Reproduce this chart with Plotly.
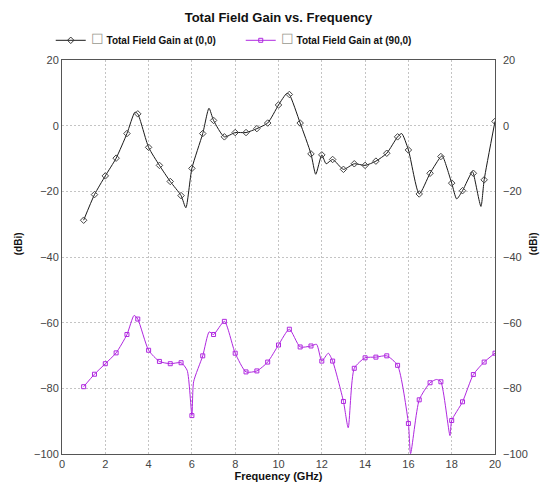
import plotly.graph_objects as go

# ---------------- data ----------------
freq_markers = [1.0, 1.5, 2.0, 2.5, 3.0, 3.5, 4.0, 4.5, 5.0, 5.5, 6.0, 6.5, 7.0, 7.5, 8.0, 8.5, 9.0, 9.5, 10.0,
                10.5, 11.0, 11.5, 12.0, 12.5, 13.0, 13.5, 14.0, 14.5, 15.0, 15.5, 16.0, 16.5, 17.0, 17.5, 18.0,
                18.5, 19.0, 19.5, 20.0]
gain_0_0 = [-28.8, -21.0, -15.3, -9.9, -2.4, 3.6, -6.6, -12.1, -17.0, -21.3, -13.0, -2.4, 1.6, -3.4, -2.1,
            -2.1, -0.9, 0.8, 6.3, 9.5, 0.8, -8.6, -8.9, -10.3, -13.3, -11.6, -12.1, -10.8, -8.4, -3.4, -7.4,
            -20.8, -14.5, -9.4, -17.5, -19.8, -14.5, -16.5, 1.3]
gain_90_0 = [-79.5, -75.7, -72.5, -69.2, -63.6, -58.9, -68.4, -71.8, -72.5, -72.2, -88.3, -70.1, -63.6, -59.6,
             -69.3, -75.0, -74.7, -72.0, -66.8, -62.0, -67.4, -67.1, -71.7, -71.7, -84.0, -73.9, -70.7, -70.5,
             -70.1, -73.0, -90.7, -83.5, -78.3, -78.0, -89.8, -84.1, -75.8, -72.0, -69.3]

# extra curve features (peaks / dips between marker samples)
extra_freq_0_0 = [3.37, 5.72, 6.79, 10.38, 11.72, 12.2, 15.69, 17.57, 18.23, 18.95, 19.35]
extra_gain_0_0 = [4.1, -25.0, 5.3, 9.8, -14.8, -11.6, -2.4, -9.2, -22.3, -14.0, -24.6]
extra_freq_90_0 = [3.33, 5.78, 6.08, 6.8, 11.76, 12.3, 13.22, 16.1, 17.3, 17.92]
extra_gain_90_0 = [-57.8, -74.5, -78.0, -62.8, -66.6, -69.3, -92.0, -99.9, -77.3, -94.4]

x_ticks = [0, 2, 4, 6, 8, 10, 12, 14, 16, 18, 20]
y_ticks = [20, 0, -20, -40, -60, -80, -100]

name_0 = "Total Field Gain at (0,0)"
name_90 = "Total Field Gain at (90,0)"
title = "Total Field Gain vs. Frequency"

BLACK = "#1a1a1a"
MAGENTA = "#b028e0"
FONT = "Liberation Sans, Arial, sans-serif"


def merged(fx, fy, ex, ey):
    pts = sorted(list(zip(fx, fy)) + list(zip(ex, ey)))
    return [p[0] for p in pts], [p[1] for p in pts]


lx0, ly0 = merged(freq_markers, gain_0_0, extra_freq_0_0, extra_gain_0_0)
lx90, ly90 = merged(freq_markers, gain_90_0, extra_freq_90_0, extra_gain_90_0)

fig = go.Figure()

# curves
fig.add_trace(go.Scatter(x=lx0, y=ly0, mode="lines", line=dict(color=BLACK, width=1, shape="spline", smoothing=0.6),
                         showlegend=False, hoverinfo="skip"))
fig.add_trace(go.Scatter(x=lx90, y=ly90, mode="lines",
                         line=dict(color=MAGENTA, width=1, shape="spline", smoothing=0.6),
                         showlegend=False, hoverinfo="skip"))
# markers
fig.add_trace(go.Scatter(x=freq_markers, y=gain_0_0, mode="markers",
                         marker=dict(symbol="diamond-open", size=5, color="#444444", line=dict(width=1)),
                         showlegend=False, name=name_0))
fig.add_trace(go.Scatter(x=freq_markers, y=gain_90_0, mode="markers",
                         marker=dict(symbol="square-open", size=4, color=MAGENTA, line=dict(width=1)),
                         showlegend=False, name=name_90))

box = "<span style='color:#9a9a90;font-weight:normal;font-size:14px'>☐</span> "
# legend-only entries
fig.add_trace(go.Scatter(x=[None], y=[None], mode="lines+markers", name=box + "<b>" + name_0 + "</b>",
                         line=dict(color=BLACK, width=1),
                         marker=dict(symbol="diamond-open", size=5, color="#333333")))
fig.add_trace(go.Scatter(x=[None], y=[None], mode="lines+markers", name=box + "<b>" + name_90 + "</b>",
                         line=dict(color=MAGENTA, width=1),
                         marker=dict(symbol="square-open", size=4, color=MAGENTA)))
# invisible trace for right axis
fig.add_trace(go.Scatter(x=[None], y=[None], yaxis="y2", showlegend=False, hoverinfo="skip"))

grid = dict(showgrid=True, gridcolor="#c4c4c4", griddash="2px,2px", gridwidth=1, zeroline=False,
            showline=True, linecolor="#555555", linewidth=1, ticks="",
            tickfont=dict(family=FONT, size=11, color="#444444"))

fig.update_layout(
    width=541, height=492,
    margin=dict(l=62, r=46, t=60, b=30),
    paper_bgcolor="white", plot_bgcolor="white",
    title=dict(text="<b>" + title + "</b>", x=0.5, xref="paper", xanchor="center", y=1 - 17 / 492,
               yanchor="middle", font=dict(family=FONT, size=13, color="#111111")),
    legend=dict(orientation="h", x=-0.026, xanchor="left", y=1.05, yanchor="middle",
                font=dict(family=FONT, size=10, color="#111111"), bgcolor="rgba(0,0,0,0)",
                entrywidth=145, entrywidthmode="pixels", itemwidth=30, tracegroupgap=0),
    xaxis=dict(range=[0, 20], tickvals=x_ticks, mirror=True, **grid,
               title=dict(text="<b>Frequency (GHz)</b>", standoff=2,
                          font=dict(family=FONT, size=11, color="#111111"))),
    yaxis=dict(range=[-100, 20], tickvals=y_ticks, mirror=True, **grid),
    yaxis2=dict(range=[-100, 20], tickvals=y_ticks, overlaying="y", side="right", showgrid=False,
                zeroline=False, showline=False, ticks="", ticklabelstandoff=7,
                tickfont=dict(family=FONT, size=11, color="#444444")),
    annotations=[
        dict(text="<b>(dBi)</b>", x=(18 - 62) / 433, xref="paper", xanchor="center", y=(462 - 248) / 402,
             yref="paper", yanchor="middle", textangle=-90, showarrow=False,
             font=dict(family=FONT, size=10, color="#111111")),
        dict(text="<b>(dBi)</b>", x=(533 - 62) / 433, xref="paper", xanchor="center", y=(462 - 248) / 402,
             yref="paper", yanchor="middle", textangle=-90, showarrow=False,
             font=dict(family=FONT, size=10, color="#111111")),
    ],
)

fig.write_html("out.html")
